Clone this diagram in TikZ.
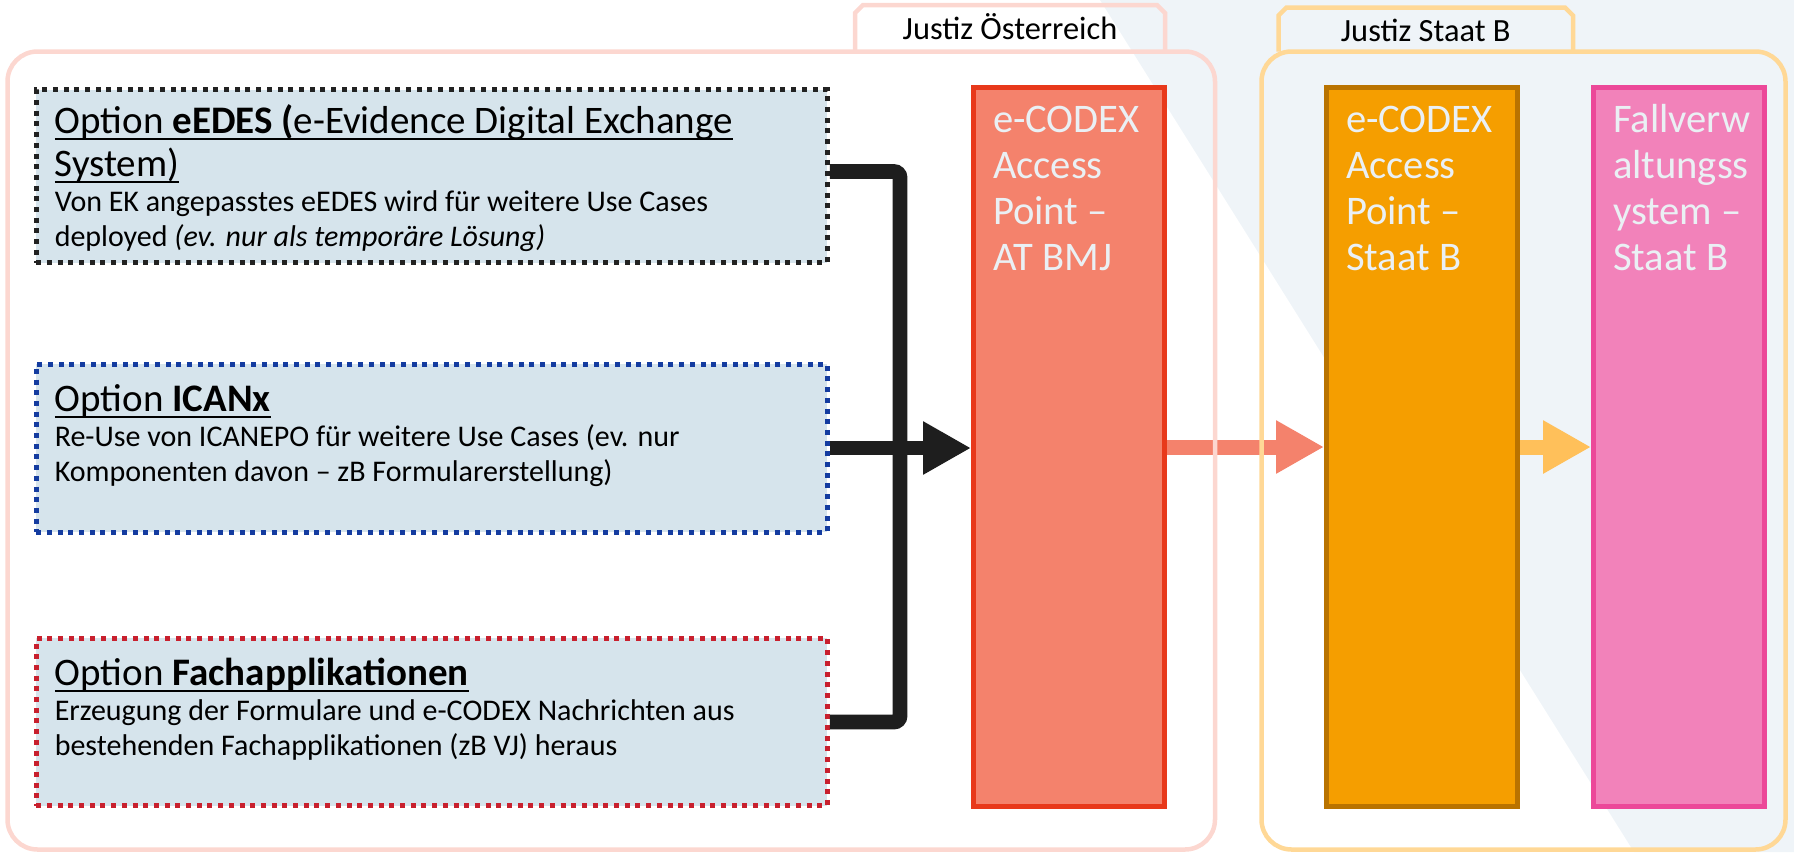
\documentclass[tikz,border=0pt]{standalone}
\usepackage{fontspec}
\setmainfont{Carlito}
\usetikzlibrary{arrows.meta}
\definecolor{bgblue}{RGB}{239,244,248}
\definecolor{optfill}{RGB}{214,228,236}
\definecolor{optblack}{RGB}{34,34,34}
\definecolor{optblue}{RGB}{20,60,160}
\definecolor{optred}{RGB}{200,32,46}
\definecolor{atfill}{RGB}{244,130,108}
\definecolor{atdraw}{RGB}{232,57,27}
\definecolor{bfill}{RGB}{245,158,0}
\definecolor{bdraw}{RGB}{185,115,0}
\definecolor{fvfill}{RGB}{242,130,186}
\definecolor{fvdraw}{RGB}{236,72,153}
\definecolor{boxtext}{RGB}{234,240,244}
\definecolor{atframe}{RGB}{252,215,208}
\definecolor{bframe}{RGB}{255,216,150}
\definecolor{connblack}{RGB}{30,30,30}
\definecolor{yellowarrow}{RGB}{255,192,90}
\newcommand{\uln}[1]{\leavevmode\setbox0\hbox{#1}\rlap{\rule[-3.5pt]{\wd0}{1pt}}\box0}
\newcommand{\optiontext}[3]{\parbox[c][#1][t]{377pt}{\raggedright\rule{0pt}{#2}#3}}
\newcommand{\aptext}[2]{\parbox[c][359.5pt][t]{#1}{\raggedright\rule{0pt}{22.25pt}#2}}
\newcommand{\titlefont}{\fontsize{19.5}{21.6}\selectfont}
\newcommand{\bodyfont}{\fontsize{15}{17.5}\selectfont}
\tikzset{
  optbox/.style={draw=#1, fill=optfill, line width=2.5pt, dash pattern=on 2.5pt off 2.85pt, inner xsep=9.25pt, inner ysep=0pt},
  apbox/.style 2 args={draw=#2, fill=#1, line width=2.5pt, inner xsep=9.75pt, inner ysep=0pt, text=boxtext, font=\fontsize{20.3}{23}\selectfont},
  frame/.style={draw=#1, line width=2.25pt},
  tablabel/.style={font=\fontsize{16.2}{18}\selectfont, inner sep=0pt, anchor=base},
  conn/.style={draw=connblack, line width=7.35pt},
  flow/.style={draw=#1, line width=7.5pt},
  bigtip/.style={-{Triangle[length=24pt,width=25pt]}}
}
\begin{document}
\begin{tikzpicture}[line join=miter,x=0.5pt,y=-0.5pt]
\useasboundingbox (0,0) rectangle (1794,852);
\fill[bgblue] (1100,0) -- (1794,0) -- (1794,852) -- (1634,852) -- cycle;
\node[optbox=optblack] (eedes) at (431.75,176) {\optiontext{86.5pt}{21.75pt}{\titlefont\uln{Option \textbf{eEDES (}e-Evidence Digital Exchange}\\\uln{System)}\par
\bodyfont Von EK angepasstes eEDES wird für weitere Use Cases\\deployed \textit{(ev. nur als temporäre Lösung)}}};
\node[optbox=optblue] (icanx) at (431.75,448) {\optiontext{84pt}{23.6pt}{\titlefont\uln{Option \textbf{ICANx}}\par
\bodyfont Re-Use von ICANEPO für weitere Use Cases (ev. nur\\Komponenten davon – zB Formularerstellung)}};
\node[optbox=optred] (fach) at (431.75,722) {\optiontext{83.75pt}{23.4pt}{\titlefont\uln{Option \textbf{Fachapplikationen}}\par
\bodyfont Erzeugung der Formulare und e-CODEX Nachrichten aus\\bestehenden Fachapplikationen (zB VJ) heraus}};
\node[apbox={atfill}{atdraw}] (apat) at (1069,447) {\aptext{76pt}{e-CODEX\\Access\\Point –\\AT BMJ}};
\node[apbox={bfill}{bdraw}] (apb) at (1422,447) {\aptext{76pt}{e-CODEX\\Access\\Point –\\Staat B}};
\node[apbox={fvfill}{fvdraw}] (fvs) at (1679,447) {\aptext{66pt}{Fallverw\\altungss\\ystem –\\Staat B}};
\coordinate (junction) at (900,447);
\draw[conn, rounded corners=3pt] ([yshift=2.25pt]eedes.east) -| (junction) |- (fach.east);
\draw[conn, bigtip] (icanx.east) -- (icanx.east -| apat.west);
\draw[flow=atfill, bigtip] (apat.east) -- (apb.west);
\draw[flow=yellowarrow, bigtip] (apb.east) -- (fvs.west);
\draw[frame=atframe] (855,51.5) -- (855,13) -- (863,5) -- (1157,5) -- (1165,13) -- (1165,51.5);
\draw[frame=bframe] (1278.5,51.5) -- (1278.5,15.5) -- (1286.5,7.5) -- (1565,7.5) -- (1573,15.5) -- (1573,51.5);
\draw[frame=atframe, rounded corners=15pt] (7.5,51.5) rectangle (1215,849.5);
\draw[frame=bframe, rounded corners=15pt] (1261.5,51.5) rectangle (1785.5,849.5);
\node[tablabel] (tabat) at (1010,39) {Justiz Österreich};
\node[tablabel] (tabb) at (1425.75,41) {Justiz Staat B};
\end{tikzpicture}
\end{document}
